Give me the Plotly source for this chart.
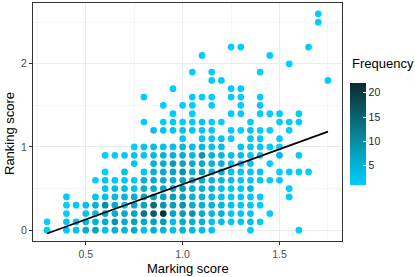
import plotly.graph_objects as go

# Ranking score levels (y) and, for each level, marking scores (x) and frequencies
ranking_levels = [0.0, 0.1, 0.2, 0.3, 0.4, 0.5, 0.6, 0.7, 0.8, 0.9, 1.0, 1.1, 1.2,
                  1.3, 1.4, 1.5, 1.6, 1.7, 1.8, 1.9, 2.0, 2.1, 2.2, 2.5, 2.6]

marking_by_level = [
    [0.30, 0.40, 0.45, 0.50, 0.55, 0.60, 0.65, 0.70, 0.75, 0.80, 0.85, 0.90, 0.95, 1.00, 1.05, 1.10, 1.15, 1.35, 1.60],
    [0.30, 0.40, 0.45, 0.50, 0.55, 0.60, 0.65, 0.70, 0.75, 0.80, 0.85, 0.90, 0.95, 1.00, 1.05, 1.10, 1.15, 1.20, 1.25, 1.30, 1.35, 1.40],
    [0.40, 0.50, 0.55, 0.60, 0.65, 0.70, 0.75, 0.80, 0.85, 0.90, 0.95, 1.00, 1.05, 1.10, 1.15, 1.20, 1.25, 1.30, 1.35, 1.45],
    [0.40, 0.45, 0.50, 0.55, 0.60, 0.65, 0.70, 0.75, 0.80, 0.85, 0.90, 0.95, 1.00, 1.05, 1.10, 1.15, 1.20, 1.25, 1.30, 1.35, 1.40],
    [0.40, 0.55, 0.60, 0.65, 0.70, 0.75, 0.80, 0.85, 0.90, 0.95, 1.00, 1.05, 1.10, 1.15, 1.20, 1.25, 1.30, 1.35, 1.40, 1.55],
    [0.60, 0.65, 0.70, 0.75, 0.80, 0.85, 0.90, 0.95, 1.00, 1.05, 1.10, 1.15, 1.20, 1.25, 1.30, 1.35, 1.55],
    [0.55, 0.60, 0.65, 0.70, 0.75, 0.80, 0.85, 0.90, 0.95, 1.00, 1.05, 1.10, 1.15, 1.20, 1.25, 1.30, 1.35, 1.40, 1.45, 1.50],
    [0.60, 0.70, 0.80, 0.85, 0.90, 0.95, 1.00, 1.05, 1.10, 1.15, 1.20, 1.25, 1.30, 1.35, 1.40, 1.50, 1.55, 1.60, 1.65],
    [0.75, 0.85, 0.90, 0.95, 1.00, 1.05, 1.10, 1.15, 1.20, 1.25, 1.30, 1.35, 1.45],
    [0.60, 0.65, 0.70, 0.75, 0.80, 0.85, 0.90, 0.95, 1.00, 1.05, 1.10, 1.15, 1.20, 1.25, 1.30, 1.35, 1.40, 1.50, 1.60],
    [0.75, 0.80, 0.85, 0.90, 0.95, 1.00, 1.05, 1.10, 1.15, 1.20, 1.30, 1.35, 1.40, 1.45, 1.50],
    [1.00, 1.10, 1.15, 1.20, 1.25, 1.35, 1.40, 1.50],
    [0.85, 0.90, 0.95, 1.00, 1.05, 1.10, 1.15, 1.25, 1.30, 1.35, 1.40, 1.45, 1.55],
    [0.80, 0.90, 0.95, 1.00, 1.05, 1.10, 1.15, 1.20, 1.35, 1.50, 1.55, 1.60],
    [0.95, 1.05, 1.25, 1.30, 1.40, 1.45, 1.50, 1.60],
    [0.90, 1.00, 1.05, 1.15, 1.30, 1.40],
    [0.80, 1.05, 1.10, 1.15, 1.25, 1.30, 1.40],
    [0.95, 1.25, 1.30],
    [1.15, 1.20, 1.75],
    [1.05, 1.15, 1.40],
    [1.55],
    [1.10, 1.45],
    [1.25, 1.30, 1.65],
    [1.70],
    [1.70],
]

freq_by_level = [
    [1, 2, 3, 6, 7, 3, 5, 5, 6, 3, 5, 5, 3, 5, 4, 3, 2, 1, 1],
    [1, 2, 2, 4, 5, 6, 9, 6, 7, 6, 7, 8, 3, 6, 5, 5, 3, 3, 2, 2, 3, 1],
    [1, 3, 4, 6, 6, 6, 7, 13, 16, 21, 7, 8, 9, 6, 4, 5, 2, 2, 2, 1],
    [1, 2, 3, 5, 10, 6, 3, 6, 7, 14, 9, 8, 9, 6, 5, 5, 4, 3, 2, 2, 1],
    [1, 2, 3, 4, 5, 6, 7, 7, 7, 8, 7, 5, 5, 4, 3, 2, 2, 2, 1, 1],
    [2, 3, 4, 3, 6, 6, 7, 7, 8, 6, 5, 5, 3, 2, 2, 4, 1],
    [1, 2, 2, 2, 2, 5, 6, 6, 6, 7, 6, 6, 5, 4, 3, 2, 2, 2, 1, 1],
    [1, 3, 2, 5, 6, 7, 9, 6, 7, 5, 5, 3, 2, 2, 2, 1, 1, 1, 1],
    [2, 5, 6, 8, 7, 6, 6, 5, 5, 2, 2, 2, 1],
    [1, 1, 1, 2, 2, 4, 5, 5, 6, 4, 9, 5, 4, 3, 3, 2, 2, 4, 1],
    [1, 2, 3, 3, 3, 4, 3, 4, 3, 3, 2, 2, 2, 1, 1],
    [2, 2, 2, 2, 1, 2, 1, 1],
    [3, 2, 2, 3, 2, 2, 2, 1, 1, 2, 1, 1, 1],
    [1, 1, 1, 1, 1, 2, 1, 1, 1, 1, 1, 1],
    [1, 1, 1, 1, 1, 1, 1, 1],
    [1, 1, 1, 1, 1, 2],
    [1, 1, 1, 1, 1, 1, 1],
    [1, 1, 1],
    [1, 1, 1],
    [1, 1, 1],
    [1],
    [1, 1],
    [1, 1, 1],
    [1],
    [1],
]

# Fitted regression line end points
fit_marking = [0.30, 1.75]
fit_ranking = [-0.04, 1.185]

x_ticks = [0.5, 1.0, 1.5]
x_tick_labels = ["0.5", "1.0", "1.5"]
y_ticks = [0, 1, 2]
y_tick_labels = ["0", "1", "2"]
cbar_ticks = [5, 10, 15, 20]

xs, ys, fs = [], [], []
for lvl, mx, fq in zip(ranking_levels, marking_by_level, freq_by_level):
    for m, f in zip(mx, fq):
        xs.append(m)
        ys.append(lvl)
        fs.append(f)

FONT = "Liberation Sans, Arial, sans-serif"
W, H = 415, 277
L, R, T, B = 33, 73, 3, 36
plot_w = W - L - R
plot_h = H - T - B

colorscale = [[0.0, "#00CCFF"], [0.25, "#04ABCA"], [0.5, "#0A8193"], [0.75, "#0B5561"], [1.0, "#0B2A2E"]]

fig = go.Figure()
fig.add_trace(go.Scatter(
    x=xs, y=ys, mode="markers",
    marker=dict(
        size=6.7, color=fs, colorscale=colorscale, cmin=1, cmax=22,
        line=dict(width=0),
        colorbar=dict(
            tickvals=cbar_ticks, ticktext=[str(v) for v in cbar_ticks],
            tickfont=dict(family=FONT, size=10.5, color="#222222"),
            ticks="inside", ticklen=3, tickcolor="#FFFFFF",
            thickness=16, lenmode="pixels", len=102,
            x=(350 - L) / plot_w, xanchor="left", xpad=0,
            y=(H - B - 134) / plot_h, yanchor="middle", ypad=0,
            outlinewidth=0,
        ),
    ),
    showlegend=False, hoverinfo="skip",
))
fig.add_trace(go.Scatter(
    x=fit_marking, y=fit_ranking, mode="lines",
    line=dict(color="#000000", width=1.8),
    showlegend=False, hoverinfo="skip",
))

axis_common = dict(
    showline=True, mirror=True, linecolor="#333333", linewidth=1,
    showgrid=True, gridcolor="#EBEBEB", gridwidth=1,
    zeroline=False, ticks="outside", ticklen=3, tickcolor="#333333", tickwidth=1,
    tickfont=dict(family=FONT, size=10.5, color="#4D4D4D"),
    automargin=False,
)

fig.update_layout(
    width=W, height=H,
    margin=dict(l=L, r=R, t=T, b=B, pad=0, autoexpand=False),
    paper_bgcolor="white", plot_bgcolor="white",
    xaxis=dict(
        range=[0.2275, 1.8225], tickvals=x_ticks, ticktext=x_tick_labels,
        minor=dict(dtick=0.25, tick0=0, showgrid=True, gridcolor="#F4F4F4", gridwidth=0.6),
        **axis_common,
    ),
    yaxis=dict(
        range=[-0.13, 2.73], tickvals=y_ticks, ticktext=y_tick_labels,
        minor=dict(dtick=0.5, tick0=0, showgrid=True, gridcolor="#F4F4F4", gridwidth=0.6),
        **axis_common,
    ),
    annotations=[
        dict(text="Marking score", xref="paper", yref="paper",
             x=(188 - L) / plot_w, y=-(268 - (H - B)) / plot_h,
             xanchor="center", yanchor="middle", showarrow=False,
             font=dict(family=FONT, size=13, color="#000000")),
        dict(text="Ranking score", xref="paper", yref="paper",
             x=-(L - 9) / plot_w, y=(H - B - 134) / plot_h, textangle=-90,
             xanchor="center", yanchor="middle", showarrow=False,
             font=dict(family=FONT, size=13, color="#000000")),
        dict(text="Frequency", xref="paper", yref="paper",
             x=(350 - L) / plot_w, y=(H - B - 63) / plot_h,
             xanchor="left", yanchor="middle", showarrow=False,
             font=dict(family=FONT, size=13, color="#000000")),
    ],
)

fig.write_html(
    "out.html",
    config={"displayModeBar": False},
    post_script="document.body.style.margin='0';document.body.style.padding='0';",
)
